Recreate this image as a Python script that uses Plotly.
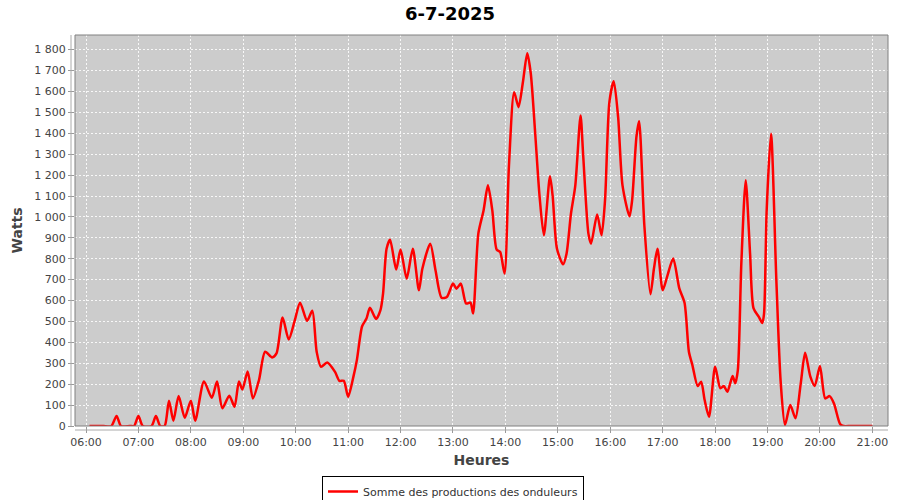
import plotly.graph_objects as go

day = "2025-07-06"
times = ["06:04","06:10","06:20","06:29","06:35","06:40","06:50","06:55","07:00","07:05","07:15","07:20","07:25","07:30",
         "07:35","07:40","07:46","07:53","08:00","08:05","08:15","08:24","08:30","08:36","08:44","08:50","08:55","08:59",
         "09:05","09:11","09:18","09:25","09:33","09:38","09:45","09:52","09:59","10:05","10:13","10:19","10:24","10:29",
         "10:36","10:45","10:50","10:55","11:00","11:06","11:10","11:16","11:21","11:25","11:32","11:37","11:40","11:44",
         "11:48","11:55","12:00","12:07","12:14","12:21","12:25","12:34","12:40","12:47","12:53","13:00","13:04","13:09",
         "13:15","13:20","13:23","13:29","13:35","13:40","13:45","13:50","13:54","13:59","14:04","14:10","14:15","14:20",
         "14:25","14:29","14:34","14:39","14:44","14:51","14:54","14:59","15:06","15:10","15:15","15:20","15:26","15:29",
         "15:35","15:38","15:45","15:50","15:54","15:59","16:04","16:09","16:14","16:22","16:25","16:30","16:33","16:39",
         "16:46","16:50","16:54","17:00","17:05","17:12","17:19","17:25","17:30","17:34","17:40","17:44","17:48","17:53",
         "18:00","18:06","18:10","18:14","18:20","18:23","18:26","18:30","18:35","18:40","18:44","18:50","18:54","18:56",
         "18:59","19:04","19:10","19:15","19:20","19:26","19:32","19:38","19:43","19:49","19:54","20:00","20:06","20:11",
         "20:16","20:23","20:27","20:35","20:45","20:55","21:00"]
watts = [0,0,0,0,48,0,0,0,48,0,0,48,0,0,
         121,25,143,40,121,25,213,135,213,85,145,92,213,175,
         261,132,220,355,328,347,519,414,506,590,503,551,355,283,
         304,259,216,216,140,235,315,477,514,565,512,554,634,848,
         891,748,844,705,848,649,753,872,745,613,617,681,657,681,
         586,590,538,920,1031,1151,1031,844,832,729,1241,1596,1525,1644,
         1783,1687,1405,1103,912,1194,1103,848,773,825,1015,1151,1485,1294,
         920,872,1012,912,1079,1549,1649,1477,1151,1003,1079,1385,1458,960,
         630,753,848,649,713,801,658,589,355,291,191,212,124,44,
         283,180,191,164,239,204,267,777,1175,825,562,522,493,538,
         1031,1398,705,212,5,100,37,204,350,236,191,287,132,143,
         108,10,0,0,0,0,0]

title_text = "6-7-2025"
x_title = "Heures"
y_title = "Watts"
series_name = "Somme des productions des onduleurs"

x = [f"{day} {t}:00" for t in times]

fig = go.Figure()
fig.add_trace(go.Scatter(
    x=x, y=watts, mode="lines", name=series_name,
    line=dict(color="#FF0000", width=2.5, shape="spline", smoothing=0.7),
))

font_main = "DejaVu Sans"
grid_col = "rgba(255,255,255,0.85)"
fig.update_layout(
    width=900, height=500,
    margin=dict(l=75, r=12, t=35, b=74, autoexpand=False),
    paper_bgcolor="white",
    plot_bgcolor="#CCCCCC",
    separators=", ",
    font=dict(family=font_main, size=11, color="#444444"),
    title=dict(text=f"<b>{title_text}</b>", x=0.5, xanchor="center",
               yref="container", y=1 - 14 / 500, yanchor="middle",
               font=dict(family=font_main, size=18, color="black")),
    showlegend=True,
    legend=dict(orientation="h", xref="container", x=322 / 900, xanchor="left",
                yref="container", y=(500 - 476) / 500, yanchor="top",
                bordercolor="black", borderwidth=1, bgcolor="white",
                font=dict(family=font_main, size=11, color="#333333"),
                itemwidth=30, tracegroupgap=0),
    xaxis=dict(
        type="date", automargin=False,
        range=[f"{day} 05:47:25", f"{day} 21:17:51"],
        tick0=f"{day} 06:00:00", dtick=3600000, tickformat="%H:%M",
        showgrid=True, gridcolor=grid_col, griddash="2px,2px", gridwidth=1,
        ticks="outside", ticklen=6, tickcolor="#999999",
        showline=False, zeroline=False,
        title=dict(text=f"<b>{x_title}</b>", font=dict(family=font_main, size=14, color="#444444"), standoff=6),
        tickfont=dict(family=font_main, size=11, color="#444444"),
    ),
    yaxis=dict(
        automargin=False,
        range=[0, 1870], dtick=100, tick0=0, tickformat=",d",
        showgrid=True, gridcolor=grid_col, griddash="2px,2px", gridwidth=1,
        ticks="outside", ticklen=6, tickcolor="#999999",
        showline=False, zeroline=False,
        title=dict(text=f"<b>{y_title}</b>", font=dict(family=font_main, size=14, color="#444444"), standoff=8),
        tickfont=dict(family=font_main, size=11, color="#444444"),
    ),
)

# plot border
fig.add_shape(type="rect", xref="paper", yref="paper", x0=0, y0=0, x1=1, y1=1,
              line=dict(color="#808080", width=1), fillcolor="rgba(0,0,0,0)", layer="above")
# offset axis lines
fig.add_shape(type="line", xref="paper", yref="paper", x0=-4/813, x1=-4/813, y0=0, y1=1,
              line=dict(color="#AAAAAA", width=1))
fig.add_shape(type="line", xref="paper", yref="paper", x0=0, x1=1, y0=-4/391, y1=-4/391,
              line=dict(color="#AAAAAA", width=1))

fig.write_html("out.html", config={"displayModeBar": False},
               post_script="document.body.style.margin='0px';document.body.style.overflow='hidden';")
